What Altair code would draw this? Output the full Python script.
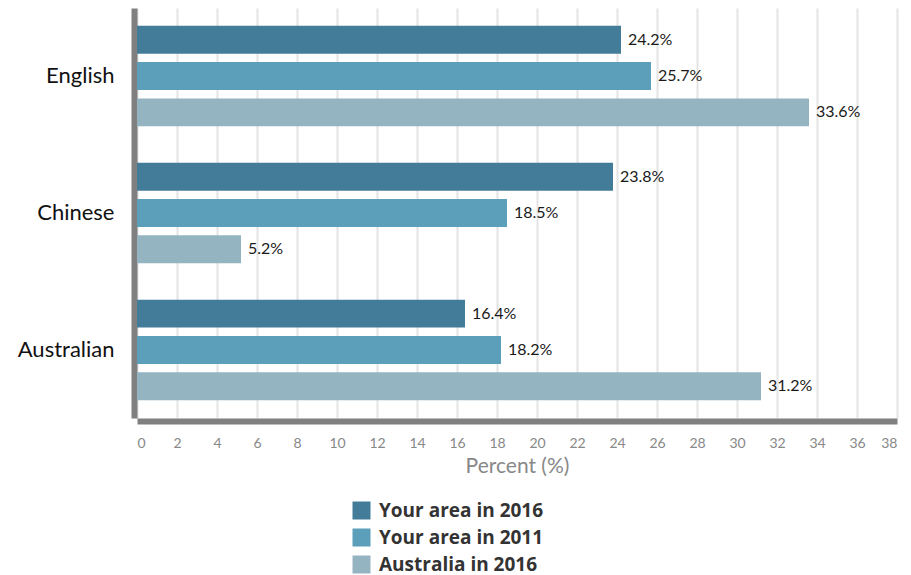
import altair as alt
import pandas as pd

languages = ["English", "Chinese", "Australian"]
series = ["Your area in 2016", "Your area in 2011", "Australia in 2016"]
area_2016 = [24.2, 23.8, 16.4]
area_2011 = [25.7, 18.5, 18.2]
australia_2016 = [33.6, 5.2, 31.2]
colors = ["#437c99", "#5b9fba", "#95b4c1"]
x_ticks = list(range(0, 40, 2))

rows = []
for i, lang in enumerate(languages):
    for s, vals in zip(series, [area_2016, area_2011, australia_2016]):
        rows.append({"Language": lang, "Series": s, "Value": vals[i],
                     "Label": f"{vals[i]:.1f}%"})
df = pd.DataFrame(rows)

FONT = "Lato"

y_enc = alt.Y("Language:N", sort=languages,
              scale=alt.Scale(paddingInner=0.267, paddingOuter=0.13),
              axis=alt.Axis(title=None, labelFont=FONT, labelFontSize=22,
                            labelColor="#111111", ticks=False, tickSize=0,
                            labelPadding=20, domainColor="#808080",
                            domainWidth=6, offset=3, grid=False))
yoff_enc = alt.YOffset("Series:N", sort=series,
                       scale=alt.Scale(paddingInner=0.233, paddingOuter=0))
x_enc = alt.X("Value:Q", scale=alt.Scale(domain=[0, 38], nice=False),
              axis=alt.Axis(title="Percent (%)", values=x_ticks,
                            labelOverlap=False,
                            labelFont=FONT, labelFontSize=14, labelColor="#888888",
                            titleFont=FONT, titleFontSize=21, titleColor="#888888",
                            titleFontWeight="normal", titlePadding=5,
                            ticks=False, tickSize=0, labelPadding=15,
                            domainColor="#808080", domainWidth=6, offset=3,
                            grid=True, gridColor="#e4e4e4", gridWidth=2))

base = alt.Chart(df)

bars = base.mark_bar().encode(
    y=y_enc, yOffset=yoff_enc, x=x_enc,
    color=alt.Color("Series:N", sort=series,
                    scale=alt.Scale(domain=series, range=colors),
                    legend=alt.Legend(title=None, orient="none", legendX=215,
                                      legendY=493, direction="vertical",
                                      symbolType="square", symbolSize=324,
                                      symbolStrokeWidth=0, labelFont="Open Sans",
                                      labelFontSize=19, labelFontWeight="bold",
                                      labelColor="#333333", labelOffset=8,
                                      rowPadding=7, labelLimit=400)),
)

labels = base.mark_text(align="left", baseline="middle", dx=7, font=FONT,
                        fontSize=16, color="#1a1a1a").encode(
    y=y_enc, yOffset=yoff_enc, x=x_enc, text="Label:N")

chart = alt.layer(bars, labels).properties(
    width=760, height=410,
    padding={"top": 0, "left": 9, "right": 5, "bottom": 0},
).configure_view(stroke=None).configure_axis(domainCap="butt")

chart.save("out.html", embed_options={"renderer": "svg", "actions": False})
